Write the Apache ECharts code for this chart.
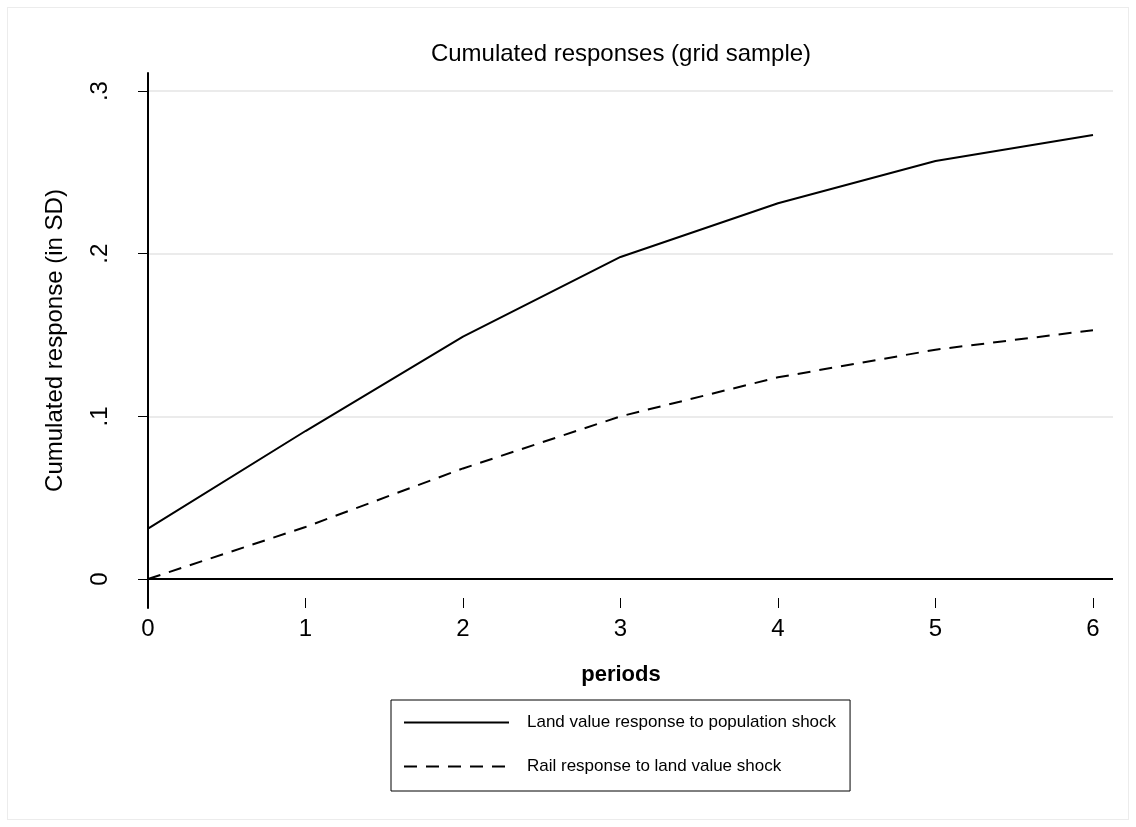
<!DOCTYPE html>
<html>
<head>
<meta charset="utf-8">
<script src="https://cdn.jsdelivr.net/npm/echarts@6/dist/echarts.min.js"></script>
<style>
  html, body { margin: 0; padding: 0; background: #ffffff; }
  #frame { position: absolute; left: 7px; top: 7px; width: 1120px; height: 811px; border: 1px solid #ececec; }
  #chart { position: absolute; left: 0; top: 0; width: 1136px; height: 827px; }
</style>
</head>
<body>
<div id="frame"></div>
<div id="chart"></div>
<script>
// Cumulated impulse responses, in standard deviations, by period
const periods = [0, 1, 2, 3, 4, 5, 6];
const landValueResponse = [0.031, 0.091, 0.149, 0.198, 0.231, 0.257, 0.273];
const railResponse = [0.000, 0.032, 0.068, 0.100, 0.124, 0.141, 0.153];

const seriesNames = ['Land value response to population shock', 'Rail response to land value shock'];
const yTickValues = [0, 0.1, 0.2, 0.3];
const yTickLabels = ['0', '.1', '.2', '.3'];
const xTickValues = [0, 1, 2, 3, 4, 5, 6];

const FONT = "'Liberation Sans', Arial, sans-serif";

// y range extends a little below zero so the vertical axis line runs past the zero line
const Y_MIN = -0.0178;
const Y_MAX = 0.3111;
const X_MAX = 6.127;

function yLabel(v) {
  for (let i = 0; i < yTickValues.length; i++) {
    if (Math.abs(yTickValues[i] - v) < 1e-9) return yTickLabels[i];
  }
  return '';
}

const chart = echarts.init(document.getElementById('chart'), null, { renderer: 'canvas' });

chart.setOption({
  animation: false,
  backgroundColor: 'transparent',
  title: {
    text: 'Cumulated responses (grid sample)',
    left: 616,
    top: 37,
    textAlign: 'center',
    textStyle: { fontFamily: FONT, fontSize: 24, fontWeight: 'normal', color: '#000' }
  },
  grid: { left: 148, right: 23, top: 73, bottom: 219, containLabel: false },
  legend: {
    orient: 'vertical',
    left: 391,
    top: 700,
    padding: [14, 14, 16, 12],
    itemWidth: 105,
    itemHeight: 18,
    itemGap: 27,
    borderColor: '#000',
    borderWidth: 1,
    itemStyle: { color: 'rgba(0,0,0,0)', borderWidth: 0, opacity: 0 },
    textStyle: { fontFamily: FONT, fontSize: 17, color: '#000', padding: [0, 0, 0, 13] },
    data: seriesNames
  },
  xAxis: {
    type: 'value',
    min: 0,
    max: X_MAX,
    axisLine: { show: false, onZero: false },
    axisTick: { show: true, inside: true, length: 10, customValues: xTickValues, lineStyle: { color: '#000', width: 1 } },
    axisLabel: { customValues: xTickValues, margin: 9, fontFamily: FONT, fontSize: 24, color: '#000' },
    splitLine: { show: false },
    name: 'periods',
    nameLocation: 'middle',
    nameGap: 56,
    nameTextStyle: { fontFamily: FONT, fontSize: 22, fontWeight: 'bold', color: '#000', padding: [0, 19, 0, 0] }
  },
  yAxis: [
    {
      // vertical axis line at period 0
      type: 'value',
      min: Y_MIN,
      max: Y_MAX,
      axisLine: { show: true, onZero: false, lineStyle: { color: '#000', width: 2 } },
      axisTick: { show: false },
      axisLabel: { show: false },
      splitLine: { show: false }
    },
    {
      // ticks, labels and gridlines, set off to the left of the axis line
      type: 'value',
      min: Y_MIN,
      max: Y_MAX,
      offset: 20,
      position: 'left',
      axisLine: { show: false },
      axisTick: { show: true, length: 10, customValues: yTickValues, lineStyle: { color: '#000', width: 1 } },
      axisLabel: {
        customValues: yTickValues,
        rotate: 90,
        margin: 16,
        fontFamily: FONT,
        fontSize: 24,
        color: '#000',
        formatter: yLabel
      },
      splitLine: { show: true, lineStyle: { color: '#ebebeb', width: 2 } },
      name: 'Cumulated response (in SD)',
      nameLocation: 'middle',
      nameGap: 61,
      nameTextStyle: { fontFamily: FONT, fontSize: 24, color: '#000' }
    }
  ],
  series: [
    {
      name: seriesNames[0],
      type: 'line',
      yAxisIndex: 0,
      symbol: 'none',
      data: periods.map((p, i) => [p, landValueResponse[i]]),
      lineStyle: { color: '#000', width: 2, type: 'solid' },
      itemStyle: { color: '#000' },
      markLine: {
        silent: true,
        symbol: 'none',
        label: { show: false },
        lineStyle: { color: '#000', width: 2, type: 'solid' },
        data: [{ yAxis: 0 }]
      }
    },
    {
      name: seriesNames[1],
      type: 'line',
      yAxisIndex: 0,
      symbol: 'none',
      data: periods.map((p, i) => [p, railResponse[i]]),
      lineStyle: { color: '#000', width: 2, type: [13, 9] },
      itemStyle: { color: '#000' }
    }
  ]
});
</script>
</body>
</html>
